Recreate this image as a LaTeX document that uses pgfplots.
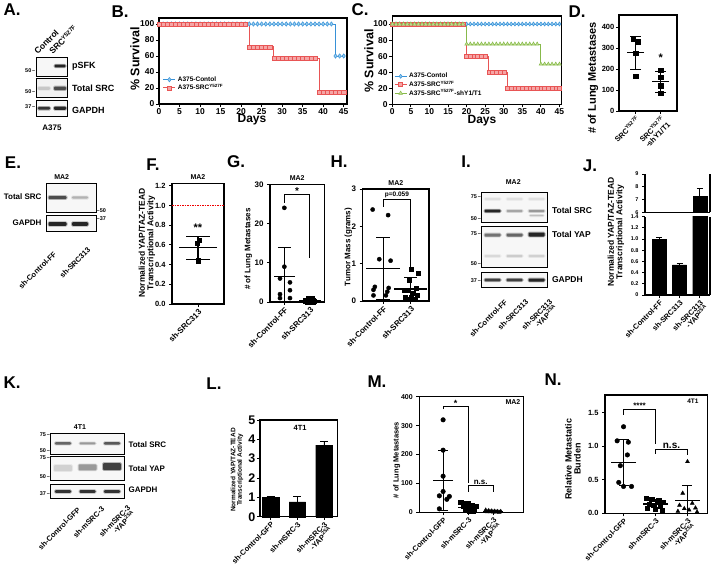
\documentclass[border=0pt]{standalone}
\usepackage{pgfplots}
\pgfplotsset{compat=1.18}
\usepackage{fontspec}
\setmainfont{Liberation Sans}
\newcommand{\fs}[1]{\fontsize{#1}{#1}\selectfont\bfseries}
\definecolor{cblue}{RGB}{55,145,215}
\definecolor{cbluel}{RGB}{150,205,240}
\definecolor{cred}{RGB}{232,85,85}
\definecolor{credl}{RGB}{245,165,165}
\definecolor{cgreen}{RGB}{135,185,75}
\definecolor{cgreenl}{RGB}{195,225,150}
\definecolor{dashred}{RGB}{240,0,0}
\pgfplotsset{
  pan/.style={scale only axis, clip=false, anchor=south west,
    axis line style={line width=1.1pt}, every tick/.style={black, line width=0.9pt},
    tick align=outside, major tick length=3pt, tick pos=left,
    /pgf/number format/assume math mode=true},
  msd/.style 2 args={only marks, black, mark=-, mark size=#1, mark options={line width=1.2pt, solid},
    error bars/.cd, y dir=both, y explicit, error bar style={line width=1.1pt},
    error mark options={rotate=90, line width=1.1pt, mark size=#2}},
  pts/.style={only marks, black, mark size=2.1pt},
  brk/.style={black, line width=1pt, mark=none},
  xrot/.style={xticklabel style={rotate=45, anchor=north east, align=right, inner sep=1pt, font=\fs{#1}}},
  km/.style={legend cell align=left,
    legend image code/.code={\draw[mark repeat=2,mark phase=2,##1] plot coordinates {(0pt,0pt) (6pt,0pt) (12pt,0pt)};}},
}
\newcommand{\band}[5]{%
  \fill[black!#5, opacity=0.35, rounded corners=1.5pt] (#1-#3-1,#2-#4-0.8) rectangle (#1+#3+1,#2+#4+0.8);
  \fill[black!#5, rounded corners=1pt] (#1-#3,#2-#4) rectangle (#1+#3,#2+#4);}
\begin{document}
\begin{tikzpicture}
\useasboundingbox (0pt,0pt) rectangle (713pt,-584pt);

% ================= B =================
\begin{axis}[pan, km, at={(159pt,-104pt)}, width=188pt, height=86pt,
  xmin=0, xmax=45.8, ymin=0, ymax=107.5, xtick={0,5,...,45}, ytick={0,20,...,100},
  tick label style={font=\fs{8.5}}, xticklabel style={inner sep=1pt}, yticklabel style={inner sep=1.5pt},
  legend style={at={(0.02,0.12)}, anchor=south west, draw=none, fill=none, font=\fs{6.5}, row sep=-2.5pt, inner sep=0pt}]
\addplot[cblue, line width=0.9pt, const plot, mark=diamond*, mark size=2.2pt, mark options={fill=cbluel, draw=cblue, line width=0.5pt}] coordinates {
(0,100) (1,100) (2,100) (3,100) (4,100) (5,100) (6,100) (7,100) (8,100) (9,100) (10,100) (11,100) (12,100) (13,100) (14,100) (15,100) (16,100) (17,100) (18,100) (19,100) (20,100) (21,100) (22,100) (23,100) (24,100) (25,100) (26,100) (27,100) (28,100) (29,100) (30,100) (31,100) (32,100) (33,100) (34,100) (35,100) (36,100) (37,100) (38,100) (39,100) (40,100) (41,100) (42,100) (43,60) (44,60) (45,60)};
\addplot[cred, line width=0.9pt, const plot, mark=square*, mark size=2.1pt, mark options={fill=credl, draw=cred, line width=0.5pt}] coordinates {
(0,100) (1,100) (2,100) (3,100) (4,100) (5,100) (6,100) (7,100) (8,100) (9,100) (10,100) (11,100) (12,100) (13,100) (14,100) (15,100) (16,100) (17,100) (18,100) (19,100) (20,100) (21,100) (22,71.4) (23,71.4) (24,71.4) (25,71.4) (26,71.4) (27,71.4) (28,57.1) (29,57.1) (30,57.1) (31,57.1) (32,57.1) (33,57.1) (34,57.1) (35,57.1) (36,57.1) (37,57.1) (38,57.1) (39,14.3) (40,14.3) (41,14.3) (42,14.3) (43,14.3) (44,14.3) (45,14.3)};
\legend{A375-Contol, A375-SRC\textsuperscript{Y527F}}
\end{axis}

% ================= C =================
\begin{axis}[pan, km, at={(392.3pt,-104.3pt)}, width=169.4pt, height=88.3pt,
  xmin=0, xmax=45.6, ymin=0, ymax=110, xtick={0,5,...,45}, ytick={0,20,...,100},
  tick label style={font=\fs{8.5}}, xticklabel style={inner sep=1pt}, yticklabel style={inner sep=1.5pt},
  legend style={at={(0.01,0.06)}, anchor=south west, draw=none, fill=none, font=\fs{6.5}, row sep=-2.5pt, inner sep=0pt}]
\addplot[cblue, line width=0.9pt, const plot, mark=diamond*, mark size=2pt, mark options={fill=cbluel, draw=cblue, line width=0.5pt}] coordinates {
(0,100) (1,100) (2,100) (3,100) (4,100) (5,100) (6,100) (7,100) (8,100) (9,100) (10,100) (11,100) (12,100) (13,100) (14,100) (15,100) (16,100) (17,100) (18,100) (19,100) (20,100) (21,100) (22,100) (23,100) (24,100) (25,100) (26,100) (27,100) (28,100) (29,100) (30,100) (31,100) (32,100) (33,100) (34,100) (35,100) (36,100) (37,100) (38,100) (39,100) (40,100) (41,100) (42,100) (43,100) (44,100) (45,100)};
\addplot[cred, line width=0.9pt, const plot, mark=square*, mark size=2pt, mark options={fill=credl, draw=cred, line width=0.5pt}] coordinates {
(0,100) (1,100) (2,100) (3,100) (4,100) (5,100) (6,100) (7,100) (8,100) (9,100) (10,100) (11,100) (12,100) (13,100) (14,100) (15,100) (16,100) (17,100) (18,100) (19,100) (20,60) (21,60) (22,60) (23,60) (24,60) (25,60) (26,40) (27,40) (28,40) (29,40) (30,40) (31,20) (32,20) (33,20) (34,20) (35,20) (36,20) (37,20) (38,20) (39,20) (40,20) (41,20) (42,20) (43,20) (44,20) (45,20)};
\addplot[cgreen, line width=0.9pt, const plot, mark=triangle*, mark size=2.1pt, mark options={fill=cgreenl, draw=cgreen, line width=0.5pt}] coordinates {
(0,100) (1,100) (2,100) (3,100) (4,100) (5,100) (6,100) (7,100) (8,100) (9,100) (10,100) (11,100) (12,100) (13,100) (14,100) (15,100) (16,100) (17,100) (18,100) (19,100) (20,75) (21,75) (22,75) (23,75) (24,75) (25,75) (26,75) (27,75) (28,75) (29,75) (30,75) (31,75) (32,75) (33,75) (34,75) (35,75) (36,75) (37,75) (38,75) (39,75) (40,50) (41,50) (42,50) (43,50) (44,50) (45,50)};
\legend{A375-Contol, A375-SRC\textsuperscript{Y527F}, A375-SRC\textsuperscript{Y527F}-shY1/T1}
\end{axis}

% ================= D =================
\begin{axis}[pan, xrot=7.5, at={(619pt,-111pt)}, width=58pt, height=96pt,
  xmin=-0.67, xmax=1.65, ymin=0, ymax=457, ytick={0,100,...,400},
  xtick={0,1}, xticklabels={{SRC\textsuperscript{Y527F}},{SRC\textsuperscript{Y527F}\\-shY1/T1}},
  yticklabel style={font=\fs{7.5}, inner sep=1.5pt}]
\addplot[pts, mark=square*] coordinates {(-0.1,340) (0.1,330) (0,275) (0,165) (1,195) (1,160) (1,120) (1,85)};
\addplot[msd={8.3pt}{5.3pt}] coordinates {(0,277) +- (0,79) (1,140) +- (0,50)};
\node[font=\fs{11}] at (axis cs:1,255) {*};
\end{axis}

% ================= F =================
\begin{axis}[pan, xrot=8, at={(172pt,-304pt)}, width=52pt, height=120.7pt,
  xmin=-1, xmax=1, ymin=0, ymax=1.225, ytick={0,0.2,0.4,0.6,0.8,1.0,1.2},
  xtick={0}, xticklabels={sh-SRC313},
  yticklabel style={font=\fs{7.5}, /pgf/number format/.cd, fixed, fixed zerofill, precision=1}]
\addplot[draw=dashred, color=dashred, dash pattern=on 1.6pt off 0.9pt, line width=1.5pt, mark=none] coordinates {(-1,1) (1,1)};
\addplot[pts, mark=square*] coordinates {(0.06,0.65) (-0.04,0.62) (0,0.44)};
\addplot[msd={19pt}{12pt}] coordinates {(0,0.57) +- (0,0.115)};
\node[font=\fs{11}] at (axis cs:0,0.77) {**};
\node[font=\fs{7}, anchor=south] at (rel axis cs:0.5,1) {MA2};
\end{axis}

% ================= G =================
\begin{axis}[pan, xrot=8, at={(270pt,-302pt)}, width=54.3pt, height=117.7pt,
  xmin=-0.56, xmax=1.56, ymin=0, ymax=30, ytick={0,10,20,30},
  xtick={0,1}, xticklabels={sh-Control-FF,sh-SRC313},
  yticklabel style={font=\fs{8}}]
\addplot[pts, mark=*] coordinates {(0,24) (0,9) (-0.17,6) (0.22,5) (0.22,3) (-0.17,2) (-0.17,1) (0.22,1)};
\addplot[pts, mark=square*, mark size=2pt] coordinates {(0.82,0.3) (0.92,1) (1.0,0.2) (1.08,1) (1.16,0.2) (0.88,0) (1.12,0)};
\addplot[msd={10.8pt}{6.5pt}] coordinates {(0,6.4) += (0,7.6) -= (0,6.4) (1,0.4) +- (0,0.4)};
\addplot[brk] coordinates {(0,25.3) (0,27.3) (1,27.3) (1,11.3)};
\node[font=\fs{10}, anchor=south, inner sep=0.5pt] at (axis cs:0.5,27.3) {*};
\node[font=\fs{7}, anchor=south] at (rel axis cs:0.5,1) {MA2};
\end{axis}

% ================= H =================
\begin{axis}[pan, xrot=8, at={(362.7pt,-301pt)}, width=66.3pt, height=112pt,
  xmin=-0.74, xmax=1.66, ymin=0, ymax=3, ytick={0,1,2,3},
  xtick={0,1}, xticklabels={sh-Control-FF,sh-SRC313},
  yticklabel style={font=\fs{8}}]
\addplot[pts, mark=*] coordinates {(-0.38,2.45) (0.18,2.3) (-0.14,1.12) (0.27,1.08) (-0.3,0.38) (-0.35,0.3) (0.15,0.25) (-0.35,0.15) (0.1,0.15) (0.2,0.35)};
\addplot[pts, mark=square*, mark size=2pt] coordinates {(1.0,0.85) (1.26,0.75) (0.95,0.55) (1.2,0.35) (0.75,0.3) (0.9,0.3) (1.1,0.2) (1.25,0.15) (0.8,0.1) (1.0,0.1) (0.85,0.05) (1.15,0.05)};
\addplot[msd={16.7pt}{6.7pt}] coordinates {(0,0.87) += (0,0.83) -= (0,0.82) (1,0.32) +- (0,0.3)};
\addplot[brk] coordinates {(0,2.53) (0,2.73) (1,2.73) (1,0.92)};
\node[font=\fs{6.5}, anchor=south, inner sep=1pt] at (axis cs:0.5,2.73) {p=0.059};
\node[font=\fs{7}, anchor=south] at (rel axis cs:0.5,1) {MA2};
\end{axis}

% ================= J =================
\begin{axis}[pan, xrot=7.5, at={(645pt,-295pt)}, width=65pt, height=78.3pt,
  axis x line*=bottom, clip=true, ybar, bar width=0.7,
  xmin=-0.7, xmax=2.5, ymin=0, ymax=1.4,
  ytick={0,0.2,0.4,0.6,0.8,1.0,1.2,1.4}, yticklabels={0,0.2,0.4,0.6,0.8,1.0,1.2,1.4},
  xtick={0,1,2}, xticklabels={sh-Control-FF,sh-SRC313,sh-SRC313\\-YAP\textsuperscript{2SA}},
  yticklabel style={font=\fs{5.5}}]
\addplot[fill=black, draw=black, error bars/.cd, y dir=plus, y explicit, error bar style={line width=0.9pt}, error mark options={rotate=90, line width=0.9pt, mark size=3pt}]
  coordinates {(0,1.0) +- (0,0.03) (1,0.54) +- (0,0.02) (2,7.3) +- (0,0)};
\end{axis}
\begin{axis}[pan, at={(645pt,-212.3pt)}, width=65pt, height=38.3pt,
  axis x line*=top, clip=true, ybar, bar width=0.7,
  xmin=-0.7, xmax=2.5, ymin=6, ymax=9, ytick={6,7,8,9}, xtick=\empty,
  yticklabel style={font=\fs{5.5}}]
\addplot[fill=black, draw=black, error bars/.cd, y dir=plus, y explicit, error bar style={line width=0.9pt}, error mark options={rotate=90, line width=0.9pt, mark size=3pt}]
  coordinates {(2,7.3) +- (0,0.6)};
\node[font=\fs{7}, anchor=south] at (rel axis cs:0.5,1) {MA2};
\end{axis}

% ================= L =================
\begin{axis}[pan, xrot=7.5, at={(260pt,-516.7pt)}, width=77.3pt, height=96.7pt,
  ybar, bar width=0.62,
  xmin=-0.4, xmax=2.5, ymin=0, ymax=5, ytick={0,1,2,3,4,5},
  xtick={0,1,2}, xticklabels={sh-Control-GFP,sh-mSRC-3,sh-mSRC-3\\-YAP\textsuperscript{2SA}},
  yticklabel style={font=\fs{12.5}, inner sep=1.5pt}]
\addplot[fill=black, draw=black, error bars/.cd, y dir=plus, y explicit, error bar style={line width=0.9pt}, error mark options={rotate=90, line width=0.9pt, mark size=4pt}]
  coordinates {(0,1.0) +- (0,0.04) (1,0.77) +- (0,0.28) (2,3.7) +- (0,0.2)};
\node[font=\fs{7.5}] at (rel axis cs:0.52,0.92) {4T1};
\end{axis}

% ================= M =================
\begin{axis}[pan, xrot=7.5, at={(419.3pt,-512.3pt)}, width=104pt, height=115.6pt,
  xmin=-0.95, xmax=3.2, ymin=0, ymax=400, ytick={0,100,...,400},
  xtick={0,1,2}, xticklabels={sh-Control-GFP,sh-mSRC-3,sh-mSRC-3\\-YAP\textsuperscript{2SA}},
  yticklabel style={font=\fs{7}}]
\addplot[pts, mark=*, mark size=2.3pt] coordinates {(0,320) (0,215) (0,125) (0,72) (-0.15,57) (0.25,55) (0.15,45) (-0.15,12)};
\addplot[pts, mark=square*, mark size=2.1pt] coordinates {(0.7,35) (0.85,32) (1.0,30) (1.15,25) (1.3,22) (0.8,20) (0.95,15) (1.1,12) (1.25,10) (0.9,8) (1.05,5) (1.2,3)};
\addplot[pts, mark=triangle*, mark size=2.2pt] coordinates {(1.7,8) (1.82,6) (1.94,5) (2.06,4) (2.18,3) (2.3,3) (1.76,2) (1.88,2) (2.0,1) (2.12,1) (2.24,0)};
\addplot[msd={10pt}{5pt}] coordinates {(0,110) +- (0,104) (1,18) +- (0,11) (2,3.2) +- (0,2.5)};
\addplot[brk] coordinates {(0,356) (0,365) (1,365) (1,102)};
\addplot[brk] coordinates {(1,72) (1,92) (2,92) (2,72)};
\node[font=\fs{9}, anchor=south, inner sep=0.5pt] at (axis cs:0.5,365) {*};
\node[font=\fs{8}, anchor=south, inner sep=1pt] at (axis cs:1.5,92) {n.s.};
\node[font=\fs{7}] at (rel axis cs:0.9,0.957) {MA2};
\end{axis}

% ================= N =================
\begin{axis}[pan, xrot=7.5, at={(605pt,-513.3pt)}, width=102.3pt, height=118.3pt,
  xmin=-0.58, xmax=2.62, ymin=0, ymax=1.763, ytick={0,0.5,1,1.5},
  xtick={0,1,2}, xticklabels={sh-Control-GFP,sh-mSRC-3,sh-mSRC-3\\-YAP\textsuperscript{2SA}},
  yticklabel style={font=\fs{7.5}, /pgf/number format/.cd, fixed, fixed zerofill, precision=1}]
\addplot[pts, mark=*, mark size=2.3pt] coordinates {(0,1.29) (-0.2,1.08) (0.15,1.06) (0.12,0.87) (-0.1,0.71) (-0.15,0.46) (0.0,0.40) (0.25,0.40)};
\addplot[pts, mark=square*, mark size=2.1pt] coordinates {(0.72,0.22) (0.88,0.21) (1.1,0.19) (1.25,0.16) (0.8,0.14) (0.95,0.12) (1.15,0.10) (0.75,0.08) (1.0,0.06) (1.2,0.05)};
\addplot[pts, mark=triangle*, mark size=2.3pt] coordinates {(2.0,0.77) (1.85,0.30) (2.15,0.15) (1.75,0.12) (2.25,0.08) (1.9,0.07) (2.05,0.05) (1.7,0.03) (2.3,0.02)};
\addplot[msd={12.5pt}{5pt}] coordinates {(0,0.76) +- (0,0.34) (1,0.14) +- (0,0.06) (2,0.19) += (0,0.23) -= (0,0.19)};
\addplot[brk] coordinates {(0,1.47) (0,1.55) (1,1.55) (1,1.04)};
\addplot[brk] coordinates {(1,0.89) (1,0.95) (2,0.95) (2,0.87)};
\node[font=\fs{8}, anchor=south, inner sep=1pt] at (axis cs:0.5,1.55) {****};
\node[font=\fs{10}, anchor=south, inner sep=1pt] at (axis cs:1.5,0.95) {n.s.};
\node[font=\fs{6.5}] at (rel axis cs:0.86,0.943) {4T1};
\end{axis}

% ================= text, labels, blots =================
\begin{scope}[x=1pt, y=-1pt]
% panel letters
\foreach \l/\x/\y in {A/12/10, B/120/12, C/360/10, D/577/12, E/13/163, F/153/165, G/236/162, H/339/162, I/466/162, J/590/166, K/12/383, L/214/384, M/377/382, N/553/380}
  \node[font=\fs{17}] at (\x,\y) {\l.};
% axis labels
\node[font=\fs{12.5}, rotate=90] at (135,59) {\% Survival};
\node[font=\fs{12}] at (252,120) {Days};
\node[font=\fs{12.5}, rotate=90] at (369,61) {\% Survival};
\node[font=\fs{12}] at (482,121) {Days};
\node[font=\fs{11}, rotate=90] at (593,78) {\# of Lung Metastases};
\node[font=\fs{8.5}, rotate=90, align=center] at (147,243) {Normalized YAP/TAZ-TEAD\\Transcriptional Activity};
\node[font=\fs{8}, rotate=90] at (248.3,249) {\# of Lung Metastases};
\node[font=\fs{8}, rotate=90] at (348.3,247) {Tumor Mass (grams)};
\node[font=\fs{8.5}, rotate=90, align=center] at (616,232) {Normalized YAP/TAZ-TEAD\\Transcriptional Activity};
\node[font=\fs{6.5}, rotate=90, align=center] at (237,470) {Normalized YAP/TAZ-TEAD\\Transcriptional Activity};
\node[font=\fs{7.5}, rotate=90] at (396.7,460) {\# of Lung Metastases};
\node[font=\fs{9}, rotate=90, align=center] at (573,459) {Relative Metastatic\\Burden};

% ---------- A blots ----------
\node[font=\fs{8.5}, rotate=45, anchor=south west, inner sep=0.5pt] at (38,56) {Control};
\node[font=\fs{8.5}, rotate=45, anchor=south west, inner sep=0.5pt] at (53,56) {SRC\textsuperscript{Y527F}};
\draw[line width=0.8pt, fill=black!3] (36,57.3) rectangle (67.7,76);
\draw[line width=0.8pt, fill=black!5] (36,78.3) rectangle (67.7,97.7);
\draw[line width=0.8pt, fill=black!3] (36,100) rectangle (67.7,116.7);
\band{60}{66}{5.5}{1.3}{85}
\band{44}{88.3}{6}{1.5}{22}
\band{60}{88.3}{6}{1.8}{70}
\band{44}{108.3}{6}{1.4}{80}
\band{60}{108.3}{6}{1.6}{85}
\node[font=\fs{9}, anchor=west] at (68.5,66) {pSFK};
\node[font=\fs{9}, anchor=west] at (68.5,88.3) {Total SRC};
\node[font=\fs{9}, anchor=west] at (68.5,110) {GAPDH};
\node[font=\fs{5.5}, anchor=east, inner sep=0.5pt] at (36,70.7) {50\,--};
\node[font=\fs{5.5}, anchor=east, inner sep=0.5pt] at (36,91.7) {50\,--};
\node[font=\fs{5.5}, anchor=east, inner sep=0.5pt] at (36,107) {37\,--};
\node[font=\fs{8}] at (52,127.3) {A375};

% ---------- E blots ----------
\node[font=\fs{7}] at (61.7,176.7) {MA2};
\draw[line width=0.8pt, fill=black!3] (46.7,183.3) rectangle (96,212.3);
\draw[line width=0.8pt, fill=black!3] (46.7,215.7) rectangle (96,231.7);
\band{57.5}{197.5}{9}{1.5}{70}
\band{80}{197.5}{8}{1.2}{30}
\band{57.5}{224}{9}{1.8}{85}
\band{80}{224}{8}{1.8}{85}
\node[font=\fs{8}, anchor=east] at (45,196.7) {Total SRC};
\node[font=\fs{8}, anchor=east] at (45,223) {GAPDH};
\node[font=\fs{5.5}, anchor=west, inner sep=0.5pt] at (96,211) {--50};
\node[font=\fs{5.5}, anchor=west, inner sep=0.5pt] at (96,219) {--37};
\node[font=\fs{7.5}, rotate=45, anchor=north east, inner sep=0.5pt] at (53,250) {sh-Control-FF};
\node[font=\fs{7.5}, rotate=45, anchor=north east, inner sep=0.5pt] at (87,246) {sh-SRC313};

% ---------- I blots ----------
\node[font=\fs{7}] at (513.3,182.3) {MA2};
\draw[line width=0.8pt, fill=black!3] (481.7,192.3) rectangle (547.7,222.7);
\draw[line width=0.8pt, fill=black!3] (481.7,226) rectangle (547.7,267.7);
\draw[line width=0.8pt, fill=black!3] (481.7,272.7) rectangle (547.7,287.7);
\band{492.5}{199}{8}{1}{12}
\band{514.5}{199}{8}{1}{12}
\band{536.5}{199}{8}{1}{12}
\band{492.5}{211}{8}{1.3}{85}
\band{514.5}{211}{8}{1}{35}
\band{536.5}{211}{8}{1}{40}
\band{536.5}{215.5}{7}{0.7}{25}
\band{492.5}{235}{8}{1.5}{55}
\band{514.5}{235}{8}{1.5}{60}
\band{536.5}{234.5}{8}{2}{85}
\band{492.5}{256}{8}{1}{15}
\band{514.5}{256}{8}{1}{20}
\band{536.5}{256}{8}{1}{18}
\band{492.5}{280}{8}{1.3}{75}
\band{514.5}{280}{8}{1.3}{75}
\band{536.5}{280}{8}{1.5}{85}
\node[font=\fs{8.5}, anchor=west] at (548.5,210) {Total SRC};
\node[font=\fs{8.5}, anchor=west] at (548.5,234.3) {Total YAP};
\node[font=\fs{8.5}, anchor=west] at (548.5,280) {GAPDH};
\foreach \t/\y in {75/196.7, 50/218.3, 75/233.3, 50/263.3, 37/281}
  \node[font=\fs{5.5}, anchor=east, inner sep=0.5pt] at (481.7,\y) {\t\,--};
\node[font=\fs{7.5}, rotate=45, anchor=north east, inner sep=0.5pt] at (504,298) {sh-Control-FF};
\node[font=\fs{7.5}, rotate=45, anchor=north east, inner sep=0.5pt] at (525,298) {sh-SRC313};
\node[font=\fs{7.5}, rotate=45, anchor=north east, inner sep=0.5pt, align=right] at (549,298) {sh-SRC313\\-YAP\textsuperscript{2SA}};

% ---------- K blots ----------
\node[font=\fs{7}] at (80,427) {4T1};
\draw[line width=0.8pt, fill=black!3] (50.7,433.3) rectangle (124.3,454);
\draw[line width=0.8pt, fill=black!3] (50.7,456) rectangle (124.3,480);
\draw[line width=0.8pt, fill=black!3] (50.7,484) rectangle (124.3,498.3);
\band{63}{443.3}{8}{1.2}{60}
\band{87.5}{443.3}{8}{1}{40}
\band{112}{443.3}{8}{1.2}{65}
\band{63}{468}{9}{3}{18}
\band{87.5}{467.3}{9}{3}{40}
\band{112}{466.5}{9}{3.5}{75}
\band{63}{491.5}{8}{1.3}{80}
\band{87.5}{491.5}{8}{1.3}{80}
\band{112}{491.5}{8}{1.3}{80}
\node[font=\fs{8}, anchor=west] at (125,445) {Total SRC};
\node[font=\fs{8}, anchor=west] at (125,468.3) {Total YAP};
\node[font=\fs{8}, anchor=west] at (125,490) {GAPDH};
\foreach \t/\y in {75/435, 50/450.7, 75/457.3, 50/476.7, 37/493.3}
  \node[font=\fs{5.5}, anchor=east, inner sep=0.5pt] at (50.7,\y) {\t\,--};
\node[font=\fs{7.5}, rotate=45, anchor=north east, inner sep=0.5pt] at (77,506) {sh-Control-GFP};
\node[font=\fs{7.5}, rotate=45, anchor=north east, inner sep=0.5pt] at (101,505) {sh-mSRC-3};
\node[font=\fs{7.5}, rotate=45, anchor=north east, inner sep=0.5pt, align=right] at (127,504) {sh-mSRC-3\\-YAP\textsuperscript{2SA}};
\end{scope}
\end{tikzpicture}
\end{document}
